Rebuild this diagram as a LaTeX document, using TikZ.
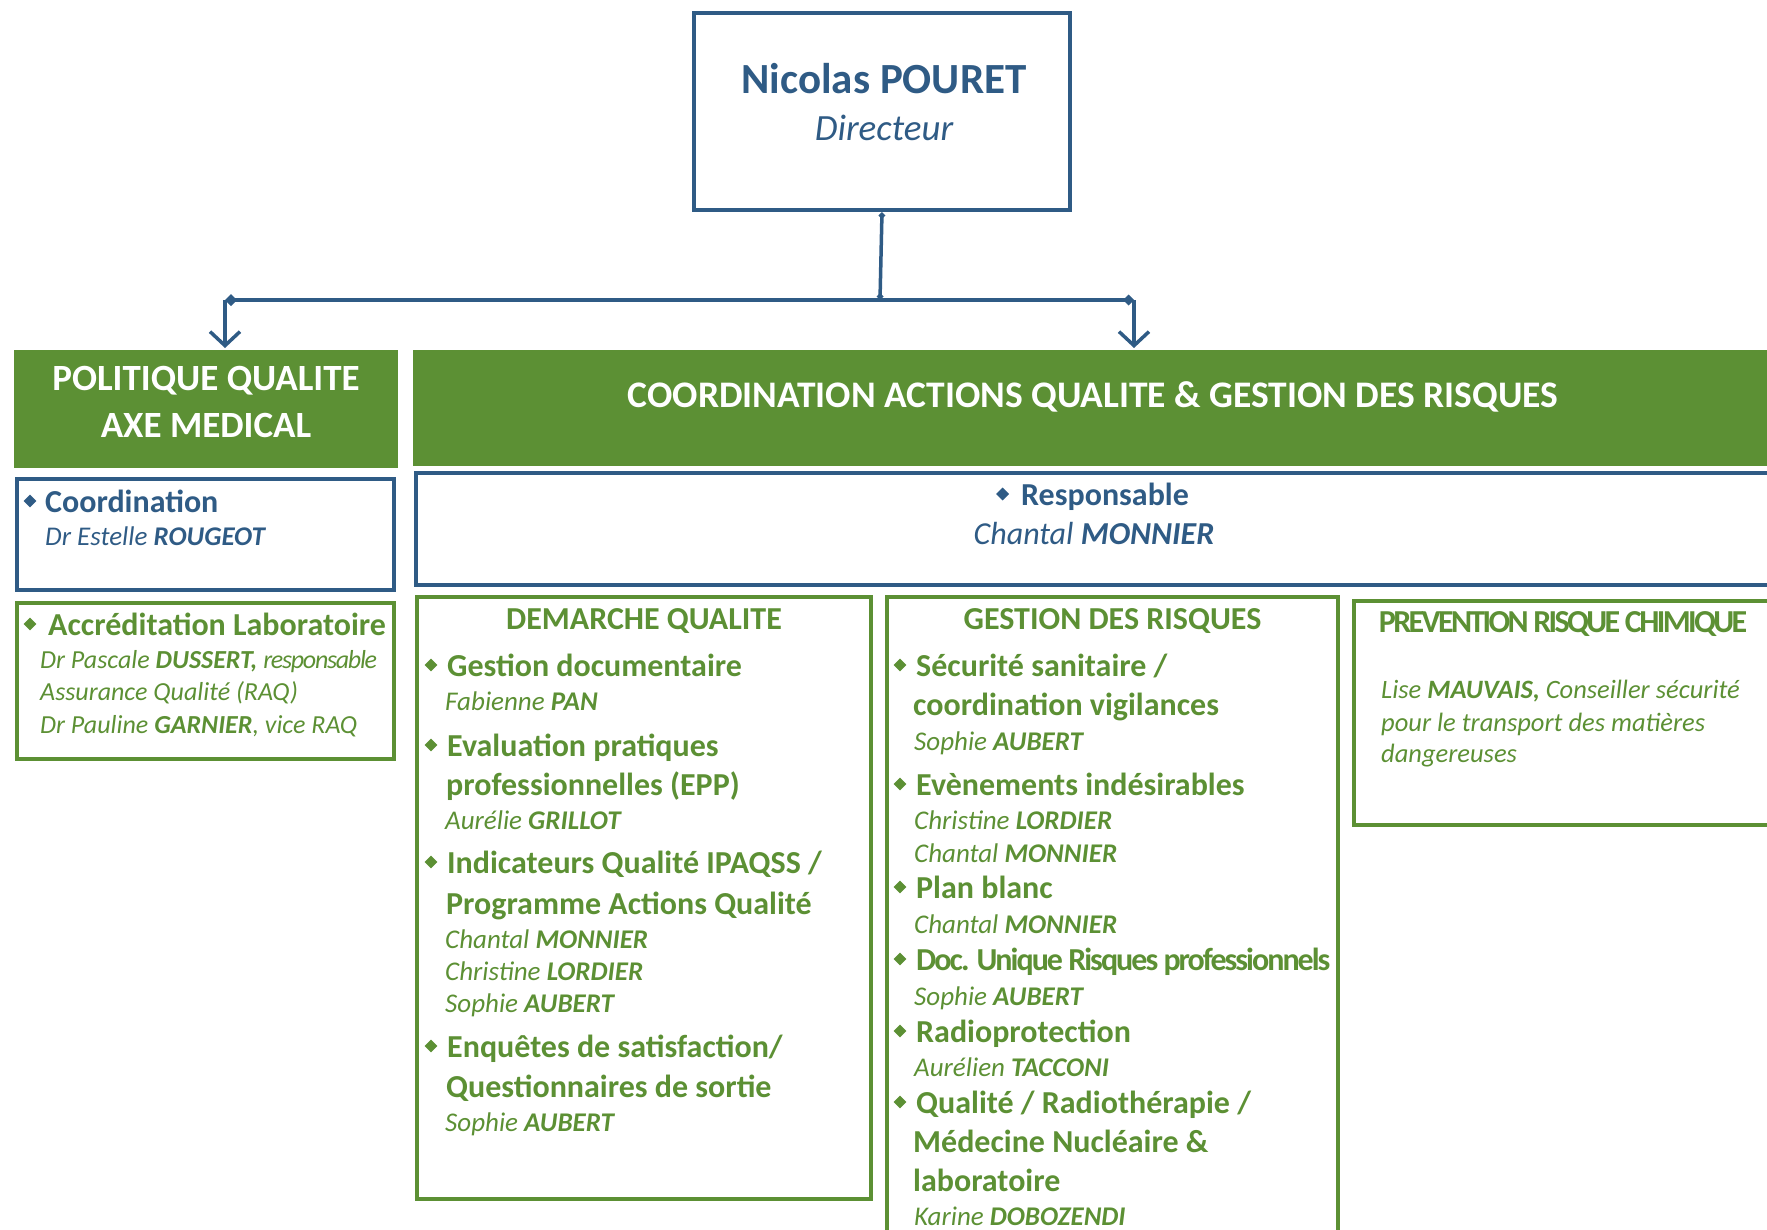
\documentclass[tikz,border=0pt]{standalone}
\usepackage{fontspec}
\setmainfont{Carlito}
\usetikzlibrary{arrows.meta,positioning,shapes.geometric}
\definecolor{my_blue}{RGB}{47,91,133}
\definecolor{my_green}{RGB}{92,144,52}
\newcommand\fs[1]{\fontsize{#1}{#1}\selectfont}
\newcommand\nom[1]{\textbf{#1}}
\newcommand\serre[2]{{\addfontfeature{LetterSpace=#1}#2}}
\tikzset{
  boxbase/.style = {anchor=north west, inner sep=0pt, line width=4pt},
  bluebox/.style = {boxbase, draw=my_blue},
  greenbox/.style = {boxbase, draw=my_green},
  greenhead/.style = {boxbase, fill=my_green},
  headtext/.style = {text=white, align=center, font=\fontsize{37}{47}\selectfont\bfseries},
  txt/.style = {anchor=base west, inner sep=0pt},
  topic/.style = {txt, text=my_green, font=\fs{32}\bfseries},
  who/.style = {txt, text=my_green, font=\fs{27}\itshape},
  coltitle/.style = {anchor=base, inner sep=0pt, text=my_green, font=\fs{32}\bfseries},
  bul/.style = {diamond, fill=#1, inner sep=0pt, minimum size=13pt},
  bul/.default = my_green,
  link/.style = {draw=my_blue, line width=3.5pt}
}

\begin{document}
\begin{tikzpicture}[x=1pt, y=-1pt]
  \useasboundingbox (0,0) rectangle (1767,1229);
  \clip (0,0) rectangle (1767,1229);

  % directeur
  \node[bluebox, minimum width=376pt, minimum height=197pt] (dir) at (692,11) {};
  \node[anchor=base, text=my_blue, font=\fs{43}\bfseries] (dirname) at (884,93) {Nicolas POURET};
  \node[anchor=base, text=my_blue, font=\fs{37}\itshape] (dirrole) at (884,140) {Directeur};

  % liaisons
  \coordinate (jn) at (880,300);
  \coordinate (jl) at (225,300);
  \coordinate (jr) at (1134,300);

  % colonne de gauche
  \node[greenhead, minimum width=384pt, minimum height=118pt] (pol) at (12,348) {};
  \node[headtext] (poltitle) at ([yshift=7pt]pol.center) {POLITIQUE QUALITE\\AXE MEDICAL};
  \node[bluebox, minimum width=377pt, minimum height=111pt] (coord) at (15,477) {};
  \node[txt, text=my_blue, font=\fs{32}\bfseries] (coordt) at (45,512) {Coordination};
  \path (coordt.base west) ++(-15,-11) node[bul=my_blue] (coordb) {};
  \node[who, text=my_blue] (coordn) at (45,545) {Dr Estelle \nom{ROUGEOT}};

  \node[greenbox, minimum width=377pt, minimum height=156pt] (accr) at (15,601) {};
  \node[topic] (accrt) at (48,635) {Accréditation Laboratoire};
  \path (accrt.base west) ++(-18,-11) node[bul] (accrb) {};
  \node[who, font=\fs{26}\itshape] (accr1) at (40,668)
    {Dr Pascale \nom{DUSSERT,} \serre{-5}{responsable}};
  \node[who, font=\fs{26}\itshape] (accr2) at (40,700) {Assurance Qualité (RAQ)};
  \node[who, font=\fs{26}\itshape] (accr3) at (40,733) {Dr Pauline \nom{GARNIER}, vice RAQ};

  % coordination actions qualite
  \node[greenhead, minimum width=1370pt, minimum height=116pt] (cah) at (411,348) {};
  \node[headtext, anchor=base, font=\fs{37.5}\bfseries] (caht) at (1093,407)
    {COORDINATION ACTIONS QUALITE \& GESTION DES RISQUES};
  \node[bluebox, minimum width=1380pt, minimum height=112pt] (resp) at (414,471) {};
  \node[anchor=base, text=my_blue, font=\fs{32}\bfseries] (respt) at (1105,505) {Responsable};
  \path (respt.base west) ++(-15,-11) node[bul=my_blue] (respb) {};
  \node[anchor=base, text=my_blue, font=\fs{32}\itshape] (respn) at (1094,544) {Chantal \nom{MONNIER}};

  % demarche qualite
  \node[greenbox, minimum width=454pt, minimum height=602pt] (dq) at (415,595) {};
  \node[coltitle] (dqtitle) at (dq.north |- 0,629) {DEMARCHE QUALITE};
  \foreach \y/\t [count=\i] in {676/{Gestion documentaire}, 756/{Evaluation pratiques},
      873/{Indicateurs Qualité IPAQSS /}, 1057/{Enquêtes de satisfaction/}} {
    \node[topic] (dqt\i) at (447,\y) {\t};
    \path (dqt\i.base west) ++(-16,-11) node[bul] (dqb\i) {};
  }
  \foreach \y/\t [count=\i] in {795/{professionnelles (EPP)}, 914/{Programme Actions Qualité},
      1097/{Questionnaires de sortie}}
    \node[topic] (dqc\i) at (446,\y) {\t};
  \foreach \y/\t [count=\i] in {710/{Fabienne \nom{PAN}}, 829/{Aurélie \nom{GRILLOT}},
      948/{Chantal \nom{MONNIER}}, 980/{Christine \nom{LORDIER}}, 1012/{Sophie \nom{AUBERT}},
      1131/{Sophie \nom{AUBERT}}}
    \node[who] (dqn\i) at (445,\y) {\t};

  % gestion des risques
  \node[greenbox, minimum width=451pt, minimum height=700pt] (gr) at (885,595) {};
  \node[coltitle] (grtitle) at (gr.north |- 0,629) {GESTION DES RISQUES};
  \foreach \y/\t [count=\i] in {676/{Sécurité sanitaire /}, 795/{Evènements indésirables},
      898/{Plan blanc}, 970/{\serre{-6.2}{Doc. Unique Risques professionnels}},
      1042/{Radioprotection}, 1113/{Qualité / Radiothérapie /}} {
    \node[topic] (grt\i) at (916,\y) {\t};
    \path (grt\i.base west) ++(-16,-11) node[bul] (grb\i) {};
  }
  \foreach \y/\t [count=\i] in {715/{coordination vigilances}, 1152/{Médecine Nucléaire \&},
      1191/{laboratoire}}
    \node[topic] (grc\i) at (913,\y) {\t};
  \foreach \y/\t [count=\i] in {750/{Sophie \nom{AUBERT}}, 829/{Christine \nom{LORDIER}},
      862/{Chantal \nom{MONNIER}}, 933/{Chantal \nom{MONNIER}}, 1005/{Sophie \nom{AUBERT}},
      1076/{Aurélien \nom{TACCONI}}, 1225/{Karine \nom{DOBOZENDI}}}
    \node[who] (grn\i) at (914,\y) {\t};

  % prevention risque chimique
  \node[greenbox, minimum width=450pt, minimum height=224pt] (prc) at (1352,599) {};
  \node[coltitle] (prctitle) at (1563,632) {\serre{-8.2}{PREVENTION RISQUE CHIMIQUE}};
  \node[who, font=\fs{26.5}\itshape] (prc1) at (1381,698) {Lise \nom{MAUVAIS,} Conseiller sécurité};
  \node[who, font=\fs{26.5}\itshape] (prc2) at (1381,731) {pour le transport des matières};
  \node[who, font=\fs{26.5}\itshape] (prc3) at (1381,762) {dangereuses};

  % fleches
  \draw[link, {Diamond[length=7pt,width=7pt]}-{Diamond[length=7pt,width=7pt]}] (dir.south) -- (jn);
  \draw[link, {Diamond[length=12pt,width=12pt]}-{Diamond[length=11pt,width=11pt]}] (jl) -- (jr);
  \draw[link, -{Straight Barb[length=14pt,width=30pt]}] (jl) -- (jl |- pol.north);
  \draw[link, -{Straight Barb[length=14pt,width=30pt]}] (jr) -- (jr |- cah.north);
\end{tikzpicture}
\end{document}
